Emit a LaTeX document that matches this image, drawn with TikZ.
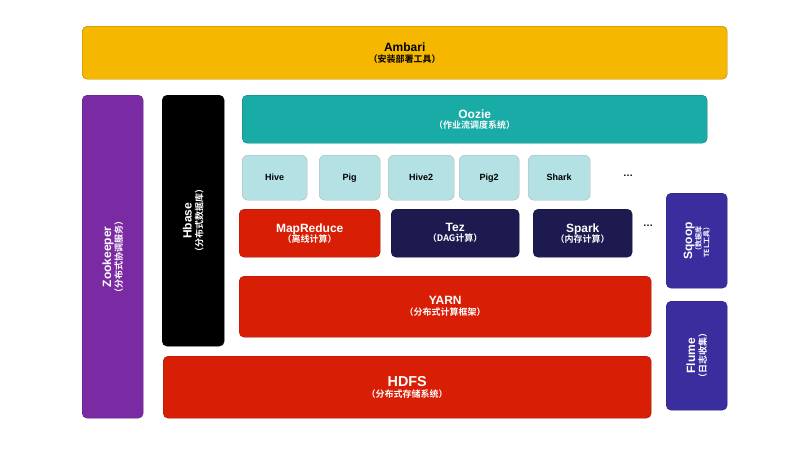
\documentclass[tikz,border=0pt]{standalone}
\usepackage{fontspec}
\setmainfont{Liberation Sans}
\newfontfamily\cjk{Noto Sans CJK SC}[BoldFont={* Bold}]
\definecolor{amb}{HTML}{F5B700}
\definecolor{zoo}{HTML}{7A2BA3}
\definecolor{teal}{HTML}{19ABA6}
\definecolor{lc}{HTML}{B4E1E4}
\definecolor{rd}{HTML}{D91E06}
\definecolor{nv}{HTML}{1C1A4F}
\definecolor{bp}{HTML}{3A2D9E}
\tikzset{box/.style={rounded corners=5pt,draw=#1!70!black,fill=#1,text=white,font=\bfseries,align=center,inner sep=0pt},
 sm/.style={rounded corners=6pt,draw=gray!60,fill=lc,font=\bfseries\small,inner sep=0pt}}
\newcommand{\rb}[6]{\node[box=#5,minimum width=#3-#1,minimum height=#4-#2,anchor=north west] (#6) at (#1,#2) {};}
\begin{document}
\begin{tikzpicture}[x=1pt,y=-1pt]
\useasboundingbox (0,0) rectangle (804,451);
\rb{82}{26}{727}{79}{amb}{amb}
\node[text=black,font=\bfseries,align=center] at (amb) {\large Ambari\\[-1pt]{\cjk\bfseries\small（安装部署工具）}};
\rb{82}{95}{143}{418}{zoo}{zk}
\node[rotate=90,text=white,font=\bfseries,align=center] at (zk) {\large Zookeeper\\[-1pt]{\cjk\bfseries\small（分布式协调服务）}};
\rb{162}{95}{224}{346}{black}{hb}
\node[rotate=90,text=white,font=\bfseries,align=center] at (hb) {\large Hbase\\[-1pt]{\cjk\bfseries\small（分布式数据库）}};
\rb{242}{95}{707}{143}{teal}{oo}
\node[text=white,font=\bfseries,align=center] at (oo) {\large Oozie\\[-2pt]{\cjk\bfseries\small（作业流调度系统）}};
\foreach \a/\b/\t in {242/307/Hive,319/380/Pig,388/454/Hive2,459/519/Pig2,528/590/Shark}
  \node[sm,minimum width=\b-\a,minimum height=45,anchor=north west] (s\t) at (\a,155) {\t};
\node (d1) at (628,176) {\bfseries\dots};
\rb{239}{209}{380}{257}{rd}{mr}
\node[text=white,font=\bfseries,align=center] at (mr) {\large MapReduce\\[-2pt]{\cjk\bfseries\small（离线计算）}};
\rb{391}{209}{519}{257}{nv}{tz}
\node[text=white,font=\bfseries,align=center] at (tz) {\large Tez\\[-2pt]{\cjk\bfseries\small（DAG计算）}};
\rb{533}{209}{632}{257}{nv}{sp}
\node[text=white,font=\bfseries,align=center] at (sp) {\large Spark\\[-2pt]{\cjk\bfseries\small（内存计算）}};
\node (d2) at (648,226) {\bfseries\dots};
\rb{666}{193}{727}{288}{bp}{sq}
\node[rotate=90,text=white,font=\bfseries,align=center] at (sq) {{\large Sqoop}\\[-3pt]{\cjk\bfseries\scriptsize（数据库}\\[-4pt]{\cjk\bfseries\scriptsize TEL工具）}};
\rb{239}{276}{651}{337}{rd}{yn}
\node[text=white,font=\bfseries,align=center] at (yn) {\large YARN\\[-1pt]{\cjk\bfseries\small（分布式计算框架）}};
\rb{163}{356}{651}{418}{rd}{hd}
\node[text=white,font=\bfseries,align=center] at (hd) {\Large HDFS\\[-1pt]{\cjk\bfseries\small（分布式存储系统）}};
\rb{666}{301}{727}{410}{bp}{fl}
\node[rotate=90,text=white,font=\bfseries,align=center] at (fl) {\large Flume\\[-1pt]{\cjk\bfseries\small（日志收集）}};
\end{tikzpicture}
\end{document}
